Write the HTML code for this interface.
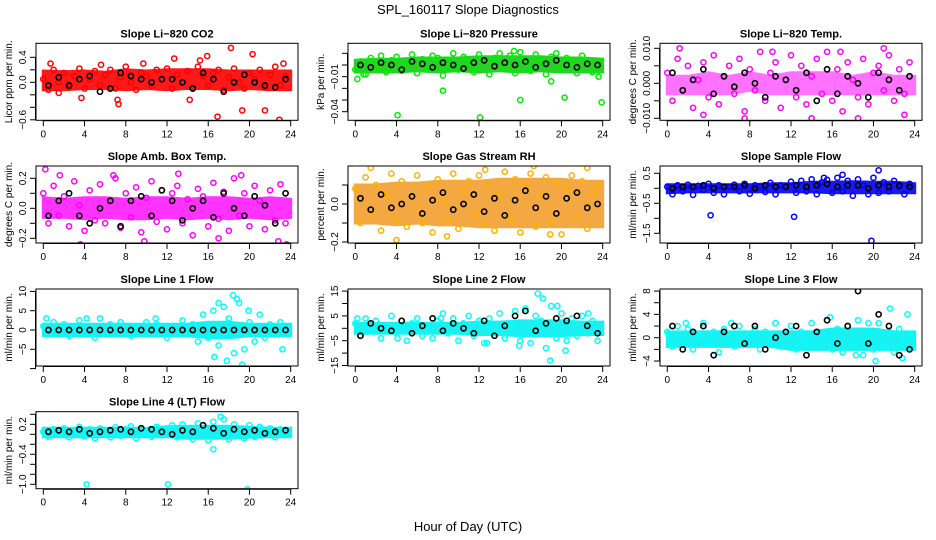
<!DOCTYPE html>
<html><head><meta charset="utf-8"><style>
html,body{margin:0;padding:0;background:#fff;}
svg{display:block;font-family:"Liberation Sans",sans-serif;}
</style></head><body>
<svg id="chart" width="936" height="540" viewBox="0 0 936 540" xmlns="http://www.w3.org/2000/svg">
<rect x="0" y="0" width="936" height="540" fill="#fff"/>
<text x="468" y="14" text-anchor="middle" font-size="13">SPL_160117  Slope Diagnostics</text>
<text x="468" y="531" text-anchor="middle" font-size="13">Hour of Day (UTC)</text>
<g id="panels"></g>
</svg>
<script>
// shared hour grids
const hours = [0,0.5,1,1.5,2,2.5,3,3.5,4,4.5,5,5.5,6,6.5,7,7.5,8,8.5,9,9.5,10,10.5,11,11.5,12,12.5,13,13.5,14,14.5,15,15.5,16,16.5,17,17.5,18,18.5,19,19.5,20,20.5,21,21.5,22,22.5,23,23.5];
const blackHours = [0.5,1.5,2.5,3.5,4.5,5.5,6.5,7.5,8.5,9.5,10.5,11.5,12.5,13.5,14.5,15.5,16.5,17.5,18.5,19.5,20.5,21.5,22.5,23.5];
const bandHours = [0,2,4,6,8,10,12,14,16,18,20,22,24];
const xTicks = [0,4,8,12,16,20,24];

// Panel 1: CO2
const co2Vals = [0.05,-0.12,0.2,0.0,0.15,-0.08,0.1,0.22,-0.1,0.05,0.18,-0.05,0.12,0.2,-0.1,0.08,0.25,0.0,-0.12,0.15,0.1,-0.05,0.2,0.05,0.22,-0.1,0.12,0.0,0.18,-0.08,0.25,0.1,-0.05,0.15,0.2,-0.12,0.08,0.22,0.0,-0.1,0.15,0.05,0.2,-0.08,0.12,0.25,-0.05,0.1];
const co2OutX = [0.7,1.5,3.7,5.6,7.2,7.3,9.7,12.7,14.2,15.2,15.9,16.9,18.2,19.3,20.3,21.5,22.9,23.3];
const co2OutY = [0.3,-0.17,-0.25,0.28,-0.28,-0.35,0.3,0.38,-0.28,0.35,0.42,-0.55,0.55,-0.45,0.45,-0.45,-0.6,0.3];
const co2Black = [-0.05,0.08,-0.05,0.05,0.1,-0.15,-0.1,0.15,0.1,0.05,0.0,0.05,0.05,0.0,-0.1,0.15,0.05,-0.15,0.0,0.12,0.0,-0.05,-0.08,0.05];
const co2Low = [-0.12,-0.12,-0.1,-0.1,-0.12,-0.1,-0.12,-0.1,-0.1,-0.12,-0.1,-0.12,-0.12];
const co2High = [0.18,0.17,0.18,0.16,0.2,0.18,0.2,0.2,0.2,0.18,0.18,0.18,0.18];

// Panel 2: Pressure
const presVals = [-0.004,0.003,-0.008,0.006,-0.002,0.008,-0.006,0.004,0.007,-0.005,0.002,0.009,-0.007,0.005,-0.003,0.008,0.006,-0.009,0.003,0.01,-0.004,0.007,0.002,-0.006,0.009,0.004,-0.008,0.006,0.01,-0.003,0.008,-0.007,0.011,0.005,-0.005,0.009,0.003,-0.008,0.007,0.01,-0.004,0.006,0.002,-0.007,0.008,0.004,-0.006,0.003];
const presOutX = [0.2,0.8,4.1,8.5,12.1,15.4,16.0,19.0,20.3,23.9,23.6];
const presOutY = [-0.012,-0.008,-0.043,-0.022,-0.045,0.012,-0.03,-0.014,-0.028,-0.032,-0.01];
const presBlack = [0.0,-0.002,0.002,0.0,-0.004,0.003,0.001,-0.002,0.002,0.0,-0.003,0.002,0.004,-0.001,0.002,0.0,0.003,-0.002,0.001,0.004,0.0,-0.002,0.001,0.0];
const presLow = [-0.006,-0.006,-0.006,-0.005,-0.006,-0.005,-0.006,-0.005,-0.006,-0.005,-0.006,-0.006,-0.006];
const presHigh = [0.004,0.005,0.005,0.006,0.006,0.006,0.007,0.007,0.007,0.007,0.006,0.006,0.005];

// Panel 3: Li-820 Temp
const tempVals = [0.003,-0.005,0.007,-0.002,0.005,-0.007,0.001,0.006,-0.004,0.008,-0.006,0.002,0.005,-0.003,0.007,-0.008,0.004,-0.002,0.009,-0.005,0.003,0.006,-0.007,0.001,0.008,-0.004,0.005,-0.006,0.002,0.007,-0.003,0.009,-0.005,0.004,-0.008,0.006,0.001,-0.004,0.007,-0.006,0.003,0.005,-0.002,0.008,-0.005,0.004,-0.003,0.006];
const tempOutX = [1.2,3.5,7.5,10.2,14.0,16.8,18.5,21.0,23.0];
const tempOutY = [0.01,-0.009,-0.01,0.009,-0.01,0.009,-0.01,0.01,-0.009];
const tempBlack = [0.003,-0.002,0.001,0.004,-0.003,0.002,-0.001,0.003,0.0,-0.004,0.002,0.001,-0.002,0.003,-0.005,0.004,-0.003,0.002,0.0,-0.004,0.003,0.001,-0.002,0.002];
const tempLow = [-0.003,-0.003,-0.003,-0.003,-0.002,-0.003,-0.003,-0.003,-0.003,-0.003,-0.003,-0.003,-0.003];
const tempHigh = [0.002,0.002,0.003,0.002,0.003,0.002,0.003,0.003,0.003,0.002,0.003,0.002,0.002];

// Panel 4: Amb. Box Temp
const ambVals = [0.1,-0.1,0.15,-0.05,0.08,-0.12,0.18,0.02,-0.15,0.12,-0.08,0.16,-0.1,0.05,0.2,-0.13,0.1,-0.06,0.14,-0.16,0.07,0.18,-0.09,0.12,-0.14,0.1,0.15,-0.1,0.06,-0.18,0.13,0.08,-0.12,0.17,-0.07,0.11,-0.15,0.2,-0.05,0.1,-0.12,0.15,0.05,-0.14,0.12,-0.08,0.16,-0.1];
const ambOutX = [0.2,1.6,3.6,6.8,9.8,13.1,17.0,19.2,22.8,23.6];
const ambOutY = [0.26,0.22,-0.24,0.22,-0.22,0.23,-0.2,0.22,-0.22,-0.24];
const ambBlack = [-0.05,0.05,0.1,-0.05,-0.1,0.0,0.05,-0.12,0.05,0.08,-0.05,0.12,0.05,-0.08,0.0,0.05,-0.06,0.1,0.0,-0.05,0.08,0.02,-0.1,0.1];
const ambLow = [-0.06,-0.06,-0.07,-0.06,-0.07,-0.07,-0.06,-0.07,-0.06,-0.07,-0.06,-0.07,-0.06];
const ambHigh = [0.07,0.06,0.07,0.07,0.06,0.07,0.07,0.06,0.07,0.07,0.06,0.07,0.06];

// Panel 5: Gas Stream RH
const rhVals = [0.08,-0.1,0.14,-0.05,0.1,-0.14,0.05,0.16,-0.08,0.12,-0.12,0.04,0.15,-0.1,0.09,-0.15,0.13,0.02,-0.09,0.16,-0.13,0.07,0.12,-0.06,0.15,-0.11,0.1,-0.14,0.05,0.17,-0.08,0.13,-0.15,0.09,0.16,-0.12,0.04,0.14,-0.1,0.11,-0.16,0.08,0.15,-0.07,0.12,-0.13,0.06,0.1];
const rhOutX = [1.5,4.0,8.9,12.6,17.3,18.9,22.5];
const rhOutY = [0.19,-0.19,-0.17,0.18,0.2,-0.16,0.19];
const rhBlack = [0.03,-0.03,0.05,-0.02,0.0,0.04,-0.05,0.02,0.06,-0.03,0.0,0.05,-0.04,0.03,-0.06,0.02,0.07,-0.02,0.04,-0.05,0.03,0.06,-0.02,0.0];
const rhLow = [-0.1,-0.1,-0.11,-0.1,-0.11,-0.11,-0.12,-0.12,-0.12,-0.12,-0.12,-0.12,-0.12];
const rhHigh = [0.1,0.1,0.11,0.11,0.12,0.12,0.12,0.13,0.13,0.13,0.13,0.12,0.12];

// Panel 6: Sample Flow
const flowVals = [0.05,-0.2,0.1,-0.1,0.12,-0.22,0.08,-0.05,0.15,-0.15,0.1,-0.2,0.05,0.12,-0.1,0.15,-0.18,0.1,0.05,-0.12,0.18,-0.2,0.1,0.05,0.22,-0.15,0.25,-0.1,0.3,-0.2,0.2,0.28,-0.15,0.35,-0.1,0.25,-0.25,0.3,0.1,-0.2,0.35,-0.15,0.2,-0.1,0.25,0.05,-0.2,0.15];
const flowOutX = [4.2,12.3,19.8,20.5,17.0,15.2];
const flowOutY = [-0.9,-0.95,-1.75,0.6,0.45,0.35];
const flowBlack = [0.0,0.05,0.05,0.1,0.0,0.05,0.05,0.1,0.0,0.1,0.05,0.05,0.1,0.05,0.1,0.15,0.05,0.1,0.1,0.0,0.1,0.05,0.1,0.05];
const flowLow = [-0.15,-0.12,-0.12,-0.12,-0.12,-0.12,-0.12,-0.12,-0.15,-0.15,-0.15,-0.15,-0.15];
const flowHigh = [0.12,0.12,0.12,0.12,0.12,0.15,0.15,0.2,0.2,0.22,0.2,0.2,0.15];

// Panel 7: Line 1 Flow
const l1Vals = [1,-1,2,-0.5,1.5,-1.5,0.5,2.5,-1,1,-2,3,-0.5,1.5,-1,2,0.5,-1.5,1,-0.5,2,-1,1.5,0.5,-2,1,-1,2.5,-0.5,1.5,-3,4,-2,5,-4,6,3,-6,7,-5,2,-3,4,-2,1.5,-1,2,0.5];
const l1OutX = [0.3,4.2,10.9,16.6,17.0,17.8,18.4,18.8,19.3,19.9,23.2];
const l1OutY = [3,3,3,-7,7,-8,9,8,-9,5,-5];
const l1Black = [0,0,0,0,0,0,0,0,0,0,0,0,0,0,0,0,0,0,0,0,0,0,0,0];
const l1Low = [-1.5,-1.5,-1.5,-1.5,-1.5,-1.5,-1.5,-1.5,-2,-2,-1.5,-1.5,-1.5];
const l1High = [1.5,1.5,1.5,1.5,1.5,1.5,1.5,1.5,2,2,1.5,1.5,1.5];

// Panel 8: Line 2 Flow
const l2Vals = [2,-3,4,-1,3,-4,1,5,-2,3,-5,2,4,-3,1,-4,3,6,-2,4,-5,2,5,-3,3,-6,4,-2,6,-4,2,7,-5,8,-6,5,3,-8,9,-4,6,-5,4,-3,5,-2,3,-1];
const l2OutX = [0.2,4.1,8.3,12.8,15.9,17.7,18.2,18.9,19.6,20.4,22.6,23.5];
const l2OutY = [4,-4,4,-6,-7,14,12,-13,9,-9,6,-5];
const l2Black = [-3,2,0,-1,3,-2,1,4,-1,2,0,-2,3,-3,1,5,7,-1,2,4,3,5,1,-2];
const l2Low = [-2,-2,-2,-2,-2,-2,-2.5,-2.5,-3,-3,-3,-2.5,-2.5];
const l2High = [2,2,2,2,2,2,2.5,2.5,3,3,3,2.5,2.5];

// Panel 9: Line 3 Flow
const l3Vals = [1,-1.5,2,-0.5,1.5,-2,0.5,2.5,-1,1,-2.5,1.5,0,-1.5,2,-1,0.5,1.5,-2,1,-0.5,2.5,-1.5,0.5,2,-2,1,-1,2.5,-1.5,0.5,3,-2,1.5,-2.5,2,-1,3,-3,1,-2,2.5,-1.5,1,-2.5,1.5,-1,0.5];
const l3OutX = [1.8,6.2,10.5,15.8,18.3,19.5,20.2,21.6,22.8,23.3];
const l3OutY = [2.5,2.5,2.5,3.5,-3,2.5,-4,5,-3.5,4];
const l3Black = [2,-2,1,2,-3,1,2,-1,2,-2,0,1,2,-3,1,3,-1,2,8,-1,4,2,-3,-2];
const l3Low = [-1.5,-1.5,-1.5,-1.5,-1.5,-1.5,-2,-2,-2,-2,-2,-2,-2];
const l3High = [1,1,1,1,1,1,1,1,1.5,1.5,1.5,1,1];

// Panel 10: Line 4 (LT) Flow
const l4Vals = [0.05,-0.05,0.1,0.0,0.12,-0.06,0.08,0.15,-0.04,0.1,-0.08,0.12,0.02,-0.06,0.14,-0.03,0.1,0.16,-0.08,0.12,0.04,-0.05,0.15,-0.02,0.1,0.18,-0.06,0.2,0.05,-0.1,0.22,0.1,-0.12,0.25,0.0,0.3,-0.1,0.2,0.05,-0.08,0.18,-0.05,0.15,0.0,0.12,-0.06,0.1,0.02];
const l4OutX = [4.2,12.1,19.8,16.5,17.2];
const l4OutY = [-1.0,-1.0,-1.1,-0.3,0.35];
const l4Black = [0.05,0.08,0.05,0.1,0.02,0.05,0.08,0.1,0.05,0.12,0.1,0.05,0.0,0.08,0.05,0.18,0.12,0.02,0.1,0.05,0.08,0.02,0.05,0.08];
const l4Low = [-0.05,-0.05,-0.05,-0.05,-0.05,-0.05,-0.05,-0.08,-0.08,-0.08,-0.06,-0.05,-0.05];
const l4High = [0.12,0.12,0.12,0.12,0.12,0.12,0.15,0.16,0.16,0.16,0.14,0.12,0.12];

const NS = "http://www.w3.org/2000/svg";
const root = document.getElementById("panels");
function el(tag, attrs, parent){ const e=document.createElementNS(NS,tag); for(const k in attrs) e.setAttribute(k,attrs[k]); (parent||root).appendChild(e); return e; }

const panels = [
 {key:"co2",title:"Slope Li\u2212820 CO2",ylab:"Licor ppm per min.",col:0,row:0,zero:82.3,ppu:62.5,color:"#ff0000",band:"#ff0000",op:0.9,
  ticks:[-0.6,-0.4,-0.2,0,0.2,0.4],labels:{"-0.6":"\u22120.6","0":"0.0","0.4":"0.4"},
  vals:co2Vals,ox:co2OutX,oy:co2OutY,blk:co2Black,lo:co2Low,hi:co2High},
 {key:"pressure",title:"Slope Li\u2212820 Pressure",ylab:"kPa per min.",col:1,row:0,zero:65,ppu:1167,color:"#00ee00",band:"#00cc00",op:0.85,
  ticks:[0.01,0,-0.01,-0.02,-0.03,-0.04],labels:{"-0.01":"\u22120.01","-0.04":"\u22120.04"},
  vals:presVals,ox:presOutX,oy:presOutY,blk:presBlack,lo:presLow,hi:presHigh},
 {key:"li820-temp",title:"Slope Li\u2212820 Temp.",ylab:"degrees C per min.",col:2,row:0,zero:83.3,ppu:3500,color:"#ff00ff",band:"#ff00ff",op:0.55,
  ticks:[0.01,0.005,0,-0.005,-0.01],labels:{"0.01":"0.010","0":"0.000","-0.01":"\u22120.010"},
  vals:tempVals,ox:tempOutX,oy:tempOutY,blk:tempBlack,lo:tempLow,hi:tempHigh},
 {key:"amb-box-temp",title:"Slope Amb. Box Temp.",ylab:"degrees C per min.",col:0,row:1,zero:208.3,ppu:150,color:"#ff00ff",band:"#ff00ff",op:0.8,
  ticks:[0.2,0.1,0,-0.1,-0.2],labels:{"0.2":"0.2","0":"0.0","-0.2":"\u22120.2"},
  vals:ambVals,ox:ambOutX,oy:ambOutY,blk:ambBlack,lo:ambLow,hi:ambHigh},
 {key:"gas-stream-rh",title:"Slope Gas Stream RH",ylab:"percent per min.",col:1,row:1,zero:204,ppu:190,color:"#ffb000",band:"#f29a20",op:0.85,
  ticks:[0.1,0,-0.1,-0.2],labels:{"0":"0.0","-0.2":"\u22120.2"},
  vals:rhVals,ox:rhOutX,oy:rhOutY,blk:rhBlack,lo:rhLow,hi:rhHigh},
 {key:"sample-flow",title:"Slope Sample Flow",ylab:"ml/min per min.",col:2,row:1,zero:188.3,ppu:30,color:"#0000ff",band:"#0000ee",op:0.9,
  ticks:[0.5,0,-0.5,-1,-1.5],labels:{"0.5":"0.5","-0.5":"\u22120.5","-1.5":"\u22121.5"},
  vals:flowVals,ox:flowOutX,oy:flowOutY,blk:flowBlack,lo:flowLow,hi:flowHigh},
 {key:"line1-flow",title:"Slope Line 1 Flow",ylab:"ml/min per min.",col:0,row:2,zero:330,ppu:3.86,color:"#00ffff",band:"#00f0f0",op:0.9,
  ticks:[10,5,0,-5,-10],labels:{"10":"10","5":"5","0":"0","-5":"\u22125"},
  vals:l1Vals,ox:l1OutX,oy:l1OutY,blk:l1Black,lo:l1Low,hi:l1High},
 {key:"line2-flow",title:"Slope Line 2 Flow",ylab:"ml/min per min.",col:1,row:2,zero:328.3,ppu:2.48,color:"#00ffff",band:"#00f0f0",op:0.9,
  ticks:[15,10,5,0,-5,-10,-15],labels:{"15":"15","5":"5","-5":"\u22125","-15":"\u221215"},
  vals:l2Vals,ox:l2OutX,oy:l2OutY,blk:l2Black,lo:l2Low,hi:l2High},
 {key:"line3-flow",title:"Slope Line 3 Flow",ylab:"ml/min per min.",col:2,row:2,zero:337.7,ppu:5.83,color:"#00ffff",band:"#00f0f0",op:0.9,
  ticks:[8,6,4,2,0,-2,-4],labels:{"8":"8","4":"4","0":"0","-4":"\u22124"},
  vals:l3Vals,ox:l3OutX,oy:l3OutY,blk:l3Black,lo:l3Low,hi:l3High},
 {key:"line4-flow",title:"Slope Line 4 (LT) Flow",ylab:"ml/min per min.",col:0,row:3,zero:434.3,ppu:50,color:"#00ffff",band:"#00f0f0",op:0.9,
  ticks:[0.4,0.2,0,-0.2,-0.4,-0.6,-0.8,-1.0],labels:{"0.2":"0.2","-0.4":"\u22120.4","-1":"\u22121.0"},
  vals:l4Vals,ox:l4OutX,oy:l4OutY,blk:l4Black,lo:l4Low,hi:l4High}
];
const rowTops=[43.3,166,289,411.7];

panels.forEach(p=>{
  const cx=p.col*312, top=rowTops[p.row], bot=top+77;
  const left=cx+36, right=cx+298;
  const X=h=>cx+43.3+h*(247.4/24);
  const Y=v=>p.zero-v*p.ppu;
  const g=el("g",{});
  
  
  const cid="clip-"+p.key;
  const cp=el("clipPath",{id:cid},g); el("rect",{x:left,y:top,width:right-left,height:bot-top},cp);
  const t=el("text",{x:(left+right)/2,y:top-6,"text-anchor":"middle","font-size":"11","font-weight":"bold"},g);
  t.textContent=p.title;
  
  
  const yl=el("text",{transform:`translate(${cx+12},${(top+bot)/2}) rotate(-90)`,"text-anchor":"middle","font-size":"10"},g);
  yl.textContent=p.ylab;
  
  
  const data=el("g",{"clip-path":`url(#${cid})`},g);
  
  
  let d="";
  bandHours.forEach((h,i)=>{d+=(i?"L":"M")+X(h).toFixed(1)+","+Y(p.hi[i]).toFixed(1);});
  for(let i=bandHours.length-1;i>=0;i--) d+="L"+X(bandHours[i]).toFixed(1)+","+Y(p.lo[i]).toFixed(1);
  const band=el("path",{d:d+"Z",fill:p.band,stroke:p.band,"stroke-width":"3","opacity":p.op},data);
  
  
  p.vals.forEach((v,i)=>{
    const c=el("circle",{cx:X(hours[i]),cy:Y(v),r:2.6,fill:"none",stroke:p.color,"stroke-width":"1.5"},data);
    
    
  });
  p.ox.forEach((h,i)=>{
    const c=el("circle",{cx:X(h),cy:Y(p.oy[i]),r:2.6,fill:"none",stroke:p.color,"stroke-width":"1.5"},data);
    
    
  });
  p.blk.forEach((v,i)=>{
    const c=el("circle",{cx:X(blackHours[i]),cy:Y(v),r:2.6,fill:"none",stroke:"#000","stroke-width":"1.6"},data);
    
    
  });
  const box=el("rect",{x:left,y:top,width:right-left,height:bot-top,fill:"none",stroke:"#000","stroke-width":"1"},g);
  
  
  el("line",{x1:X(0),x2:X(24),y1:bot+0.5,y2:bot+0.5,stroke:"#000"},g);
  xTicks.forEach(h=>{
    el("line",{x1:X(h),x2:X(h),y1:bot,y2:bot+6,stroke:"#000"},g);
    const tl=el("text",{x:X(h),y:bot+17,"text-anchor":"middle","font-size":"10"},g);
    tl.textContent=String(h);
    
    
  });
  const ys=p.ticks.map(Y);
  el("line",{x1:left-0.5,x2:left-0.5,y1:Math.min(...ys),y2:Math.max(...ys),stroke:"#000"},g);
  p.ticks.forEach(v=>{
    el("line",{x1:left-6,x2:left,y1:Y(v),y2:Y(v),stroke:"#000"},g);
    const lab=p.labels[String(v)];
    if(lab){
      const tl=el("text",{transform:`translate(${left-10},${Y(v)}) rotate(-90)`,"text-anchor":"middle","font-size":"10"},g);
      tl.textContent=lab;
      
      
    }
  });
});
</script>
</body></html>
